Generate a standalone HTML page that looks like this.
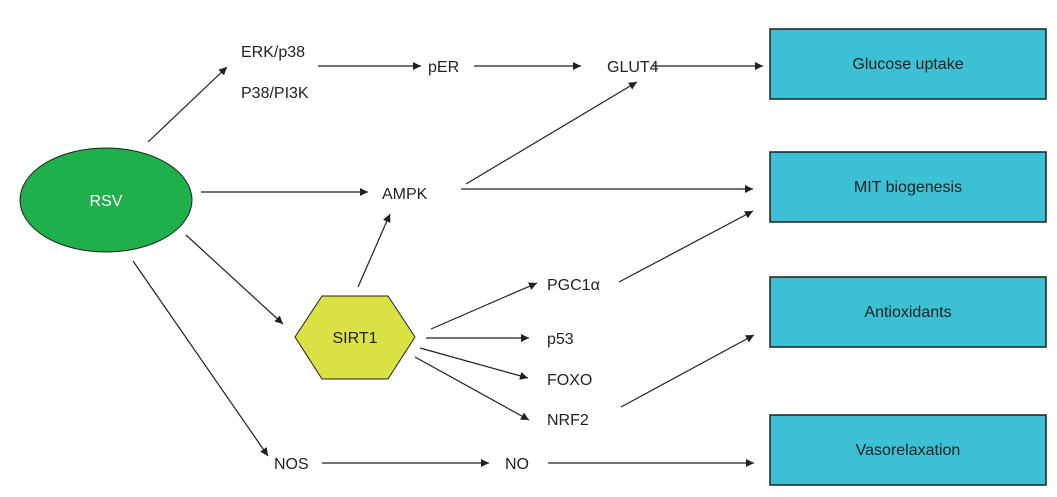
<!DOCTYPE html>
<html><head><meta charset="utf-8"><style>
html,body{margin:0;padding:0;background:#fff;}
svg{display:block;}
text{font-family:"Liberation Sans",sans-serif;font-size:16px;fill:#231f20;}
</style></head><body>
<svg width="1057" height="497" viewBox="0 0 1057 497" xmlns="http://www.w3.org/2000/svg">
<defs><marker id="a" viewBox="0 0 10 10" refX="10" refY="5" markerWidth="10" markerHeight="8" markerUnits="userSpaceOnUse" orient="auto"><path d="M0,0 L10,5 L0,10 z" fill="#231f20"/></marker></defs>
<g fill="#3bc1d3" stroke="#231f20" stroke-width="1.5">
<rect x="770" y="29" width="276" height="70"/>
<rect x="770" y="152" width="276" height="70"/>
<rect x="770" y="277" width="276" height="70"/>
<rect x="770" y="415" width="276" height="70"/>
</g>
<g text-anchor="middle">
<text x="908" y="69">Glucose uptake</text>
<text x="908" y="192">MIT biogenesis</text>
<text x="908" y="317">Antioxidants</text>
<text x="908" y="455">Vasorelaxation</text>
</g>
<ellipse cx="106" cy="200" rx="86" ry="52" fill="#1fb04b" stroke="#231f20" stroke-width="1"/>
<text x="106" y="206" text-anchor="middle" style="fill:#fff">RSV</text>
<polygon points="295,337 322,296 388,296 415,337 388,379 322,379" fill="#d9e145" stroke="#231f20" stroke-width="1"/>
<text x="355" y="343" text-anchor="middle">SIRT1</text>
<text x="241" y="57">ERK/p38</text>
<text x="241" y="98">P38/PI3K</text>
<text x="428" y="72">pER</text>
<text x="607" y="72">GLUT4</text>
<text x="382" y="199">AMPK</text>
<text x="547" y="290">PGC1α</text>
<text x="547" y="344">p53</text>
<text x="547" y="385">FOXO</text>
<text x="547" y="425">NRF2</text>
<text x="274" y="469">NOS</text>
<text x="505" y="469">NO</text>
<g stroke="#231f20" stroke-width="1.2" marker-end="url(#a)" fill="none">
<line x1="148" y1="142" x2="227" y2="67"/>
<line x1="318" y1="66" x2="421" y2="66"/>
<line x1="474" y1="66" x2="581" y2="66"/>
<line x1="653" y1="66" x2="763" y2="66"/>
<line x1="201" y1="192" x2="368" y2="192"/>
<line x1="466" y1="184" x2="637" y2="82"/>
<line x1="461" y1="189" x2="753" y2="189"/>
<line x1="358" y1="287" x2="390" y2="214"/>
<line x1="186" y1="235" x2="283" y2="324"/>
<line x1="133" y1="261" x2="268" y2="456"/>
<line x1="431" y1="329" x2="537" y2="283"/>
<line x1="426" y1="338" x2="529" y2="338"/>
<line x1="420" y1="348" x2="528" y2="378"/>
<line x1="415" y1="357" x2="529" y2="420"/>
<line x1="619" y1="282" x2="753" y2="211"/>
<line x1="621" y1="407" x2="754" y2="335"/>
<line x1="322" y1="463" x2="489" y2="463"/>
<line x1="548" y1="463" x2="754" y2="463"/>
</g>
</svg>
</body></html>
